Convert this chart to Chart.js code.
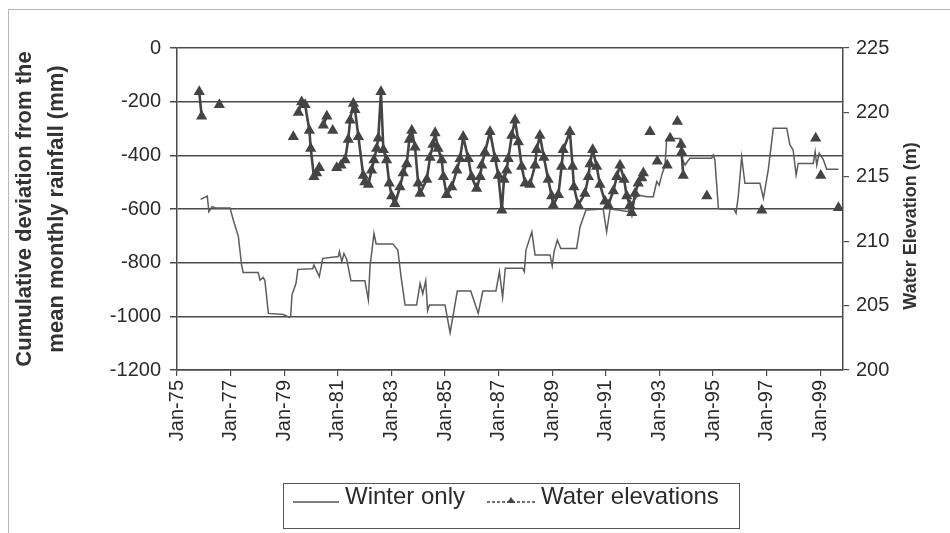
<!DOCTYPE html>
<html>
<head>
<meta charset="utf-8">
<title>Cumulative rainfall deviation and water elevations</title>
<script src="https://cdn.jsdelivr.net/npm/chart.js@4.4.1/dist/chart.umd.min.js"></script>
<style>
  body { margin: 0; background: #fff; font-family: "Liberation Sans", Arial, sans-serif; }
  #wrap { position: relative; width: 950px; height: 533px; overflow: hidden; }
  #frame { position: absolute; left: 8px; top: 9px; width: 960px; height: 540px;
           border-top: 1px solid #b8b8b8; border-left: 1px solid #b8b8b8; }
  #chart { position: absolute; left: 0; top: 0; }
  #legend { position: absolute; left: 283px; top: 483px; width: 457px; height: 46px;
            box-sizing: border-box; border: 1px solid #555; background: #fff;
            font-size: 24px; color: #2b2b2b; white-space: nowrap; }
  #legend .item { position: absolute; top: -2px; line-height: 28px; }
  #legend svg { vertical-align: baseline; margin-right: 6px; }
</style>
</head>
<body>
<div id="wrap">
  <div id="frame"></div>
  <canvas id="chart" width="950" height="533"></canvas>
  <div id="legend">
    <span class="item" style="left:9px"><svg width="46" height="6"><line x1="0" y1="4" x2="46" y2="4" stroke="#555" stroke-width="1.5"/></svg>Winter only</span>
    <span class="item" style="left:203px"><svg width="48" height="10"><line x1="0" y1="8" x2="48" y2="8" stroke="#444" stroke-width="1.5" stroke-dasharray="3 2"/><polygon points="24,3 28,9 20,9" fill="#444"/></svg>Water elevations</span>
  </div>
</div>

<script>
// ---- tick positions (decimal years) ----
const yearTicks = [1975, 1977, 1979, 1981, 1983, 1985, 1987, 1989, 1991, 1993, 1995, 1997, 1999];

// ---- Winter only: cumulative deviation from mean monthly rainfall (mm) ----
const winterDates = [
  1975.88, 1976.13, 1976.19, 1976.31, 1976.42, 1976.98, 1977.10, 1977.29, 1977.41, 1977.47,
  1978.03, 1978.10, 1978.22, 1978.28, 1978.41, 1978.97, 1979.19, 1979.24, 1979.29, 1979.44,
  1979.51, 1980.06, 1980.11, 1980.31, 1980.44, 1981.02, 1981.06, 1981.15, 1981.23, 1981.33,
  1981.49, 1982.01, 1982.14, 1982.20, 1982.35, 1982.43, 1983.05, 1983.24, 1983.36, 1983.51,
  1983.94, 1984.07, 1984.17, 1984.28, 1984.35, 1984.42, 1985.00, 1985.19, 1985.46, 1985.96,
  1986.24, 1986.41, 1986.90, 1987.03, 1987.15, 1987.25, 1987.90, 1987.96, 1988.02, 1988.24,
  1988.36, 1988.92, 1989.00, 1989.07, 1989.19, 1989.32, 1989.91, 1990.04, 1990.26, 1990.90,
  1991.03, 1991.16, 1991.53, 1991.83, 1992.01, 1992.21, 1992.53, 1992.77, 1992.90, 1992.99,
  1993.09, 1993.21, 1993.27, 1993.40, 1993.77, 1993.83, 1993.96, 1994.04, 1994.14, 1994.95,
  1995.01, 1995.07, 1995.20, 1995.26, 1995.78, 1995.86, 1995.94, 1996.07, 1996.19, 1996.75,
  1996.88, 1997.06, 1997.25, 1997.75, 1997.87, 1997.99, 1998.10, 1998.18, 1998.74, 1998.81,
  1998.87, 1998.96, 1999.12, 1999.24, 1999.68
];
const winterDeviation = [
  -564, -552, -610, -591, -596, -596, -641, -703, -809, -837,
  -837, -865, -855, -867, -989, -993, -1004, -1000, -920, -877,
  -825, -823, -809, -852, -784, -777, -759, -796, -766, -787,
  -867, -867, -939, -815, -691, -730, -730, -753, -852, -958,
  -958, -877, -916, -867, -979, -958, -958, -1061, -906, -906,
  -989, -906, -906, -834, -929, -821, -821, -834, -753, -685,
  -771, -771, -812, -759, -716, -747, -747, -666, -604, -600,
  -685, -600, -605, -610, -573, -548, -554, -554, -498, -511,
  -473, -436, -343, -337, -337, -411, -436, -424, -411, -411,
  -399, -417, -597, -600, -600, -616, -554, -407, -504, -504,
  -560, -455, -299, -299, -361, -380, -473, -430, -430, -386,
  -436, -392, -417, -452, -452
];

// ---- Water elevations (m); null breaks the line ----
const waterDates = [
  1975.83, 1975.92, null, 1976.58, null, 1979.34, null,
  1979.53, 1979.65, 1979.78, 1979.94, 1979.99, 1980.11, 1980.21, 1980.31, null,
  1980.46, 1980.59, null, 1980.81, null,
  1980.96, 1981.12, 1981.27, 1981.39, 1981.46, 1981.58, 1981.64, 1981.77, 1981.95, 1982.01,
  1982.14, 1982.26, 1982.35, 1982.45, 1982.51, 1982.61, 1982.70, 1982.82, 1982.92, 1983.01,
  1983.13, 1983.32, 1983.44, 1983.57, 1983.67, 1983.76, 1983.88, 1984.00, 1984.07, 1984.32,
  1984.44, 1984.55, 1984.63, 1984.74, 1984.88, 1984.94, 1985.06, 1985.25, 1985.44, 1985.56,
  1985.68, 1985.87, 1985.99, 1986.18, 1986.31, 1986.37, 1986.49, 1986.68, 1986.87, 1986.99,
  1987.12, 1987.20, 1987.30, 1987.36, 1987.49, 1987.61, 1987.74, 1987.86, 1987.99, 1988.17,
  1988.36, 1988.42, 1988.54, 1988.69, 1988.85, 1988.98, 1989.04, 1989.23, 1989.35, 1989.41,
  1989.66, 1989.76, 1989.81, 1989.97, 1990.22, 1990.35, 1990.41, 1990.51, 1990.66, 1990.78,
  1990.97, 1991.09, 1991.28, 1991.41, 1991.53, 1991.68, 1991.78, 1991.90, 1991.97, 1992.09,
  1992.21, 1992.34, 1992.40, null,
  1992.65, null, 1992.92, null, 1993.29, null, 1993.40, null, 1993.67, null,
  1993.81, 1993.83, 1993.89, null, 1994.77, null, 1996.82, null,
  1998.83, null, 1999.02, null, 1999.68
];
const waterLevels = [
  221.6, 219.7, null, 220.6, null, 218.1, null,
  220.0, 220.8, 220.6, 218.6, 217.2, 215.0, 215.3, 215.7, null,
  219.0, 219.7, null, 218.6, null,
  215.7, 215.9, 216.3, 217.9, 219.4, 220.7, 220.2, 218.1, 215.1, 214.6,
  214.4, 215.5, 216.3, 217.2, 218.0, 221.6, 217.1, 216.3, 214.5, 213.5,
  212.9, 214.2, 215.3, 216.0, 217.9, 218.6, 217.3, 214.5, 213.7, 214.8,
  216.5, 217.5, 218.4, 217.2, 216.3, 215.0, 213.6, 214.2, 215.5, 216.4,
  218.1, 216.4, 215.0, 214.1, 215.0, 215.9, 216.9, 218.5, 216.4, 215.1,
  212.4, 214.8, 215.5, 216.4, 218.2, 219.4, 217.7, 215.8, 214.5, 214.4,
  215.9, 217.1, 218.2, 216.5, 214.8, 213.5, 212.8, 213.6, 215.8, 217.1,
  218.5, 215.8, 214.2, 212.8, 213.7, 215.0, 216.0, 217.1, 215.8, 214.4,
  213.1, 212.8, 213.9, 215.0, 215.9, 214.8, 213.5, 212.8, 212.2, 213.7,
  214.5, 214.9, 215.3, null,
  218.5, null, 216.2, null, 215.9, null, 218.0, null, 219.3, null,
  217.5, 216.9, 215.1, null, 213.5, null, 212.4, null,
  218.0, null, 215.1, null, 212.6
];

const FONT = '"Liberation Sans", Arial, sans-serif';
const INK = '#2b2b2b';
const RULE = '#4a4a4a';

// right-hand axis title reads bottom-to-top, so it is drawn here
const rightTitle = {
  id: 'rightTitle',
  afterDraw(chart) {
    const { ctx, chartArea } = chart;
    const s = chart.scales.y2;
    ctx.save();
    ctx.translate(s.right - 39, (chartArea.top + chartArea.bottom) / 2 + 17);
    ctx.rotate(-Math.PI / 2);
    ctx.font = 'bold 18px ' + FONT;
    ctx.fillStyle = '#333';
    ctx.textAlign = 'center';
    ctx.textBaseline = 'middle';
    ctx.fillText('Water Elevation (m)', 0, 0);
    ctx.restore();
  }
};

new Chart(document.getElementById('chart'), {
  type: 'line',
  data: {
    datasets: [
      {
        label: 'Winter only',
        data: winterDates.map((d, i) => ({ x: d, y: winterDeviation[i] })),
        yAxisID: 'y',
        borderColor: '#5c5c5c',
        borderWidth: 1.5,
        pointRadius: 0,
        order: 2
      },
      {
        label: 'Water elevations',
        data: waterDates.map((d, i) => ({ x: d, y: waterLevels[i] })),
        yAxisID: 'y2',
        borderColor: '#444',
        backgroundColor: '#444',
        borderWidth: 2.6,
        pointStyle: 'triangle',
        pointRadius: 6.5,
        pointBorderWidth: 0,
        spanGaps: false,
        order: 1
      }
    ]
  },
  options: {
    responsive: false,
    animation: false,
    layout: { padding: { top: 48 } },
    plugins: { legend: { display: false }, tooltip: { enabled: false } },
    scales: {
      x: {
        type: 'linear',
        min: 1975,
        max: 1999.85,
        afterBuildTicks: s => { s.ticks = yearTicks.map(v => ({ value: v })); },
        afterFit: s => { s.height = 163; },
        grid: { drawOnChartArea: false, color: RULE, lineWidth: 1.2, tickLength: 6 },
        border: { color: RULE, width: 1.5 },
        ticks: {
          autoSkip: false, minRotation: 90, maxRotation: 90, padding: 4,
          color: INK, font: { family: FONT, size: 20 },
          callback: v => 'Jan-' + String(v).slice(2)
        }
      },
      y: {
        position: 'left',
        min: -1200,
        max: 0,
        afterFit: s => { s.width = 177; },
        grid: { color: RULE, lineWidth: 1.5, tickLength: 7 },
        border: { color: RULE, width: 1.5 },
        ticks: { stepSize: 200, padding: 9, color: INK, font: { family: FONT, size: 20 }, callback: v => String(v) },
        title: {
          display: true,
          text: ['Cumulative deviation from the', 'mean monthly rainfall (mm)'],
          color: '#333',
          font: { family: FONT, size: 22, weight: 'bold', lineHeight: 1.45 },
          padding: { top: 9, bottom: 0 }
        }
      },
      y2: {
        position: 'right',
        min: 200,
        max: 225,
        afterFit: s => { s.width = 107; },
        grid: { drawOnChartArea: false, color: RULE, lineWidth: 1.2, tickLength: 6 },
        border: { color: RULE, width: 1.5 },
        ticks: { stepSize: 5, padding: 7, color: INK, font: { family: FONT, size: 20 } }
      }
    }
  },
  plugins: [rightTitle]
});
</script>
</body>
</html>
